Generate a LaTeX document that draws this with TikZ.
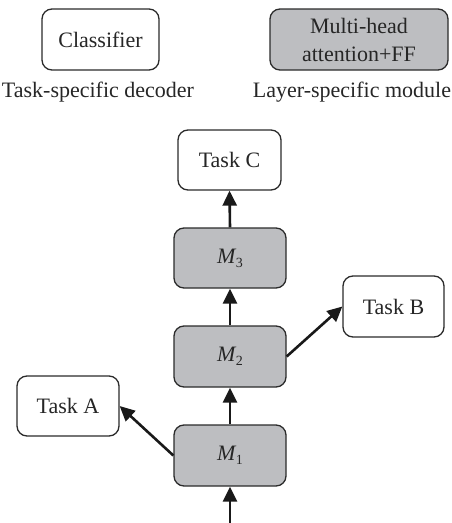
\documentclass[tikz,border=0pt]{standalone}
\usepackage{fontspec}
\setmainfont{Liberation Serif}
\usetikzlibrary{arrows.meta}
\definecolor{modgray}{HTML}{BDBEC1}
\definecolor{edgec}{HTML}{2B2B2B}
\newcommand\msub[1]{{\itshape M}\kern0.02em\raisebox{-0.4ex}{\fontsize{14}{14}\selectfont #1}}
\begin{document}
\begin{tikzpicture}[x=1pt,y=-1pt,
  box/.style={draw=edgec, line width=1.3pt, rounded corners=10pt, inner sep=0pt, align=center,
    font=\fontsize{22}{28}\selectfont, text=black!85},
  dec/.style={box, fill=white},
  mod/.style={box, fill=modgray},
  lbl/.style={inner sep=0pt, anchor=base, font=\fontsize{22}{24}\selectfont, text=black!85},
  arr/.style={line width=2.6pt, draw=black!90, -{Triangle[length=15pt,width=14pt]}, shorten >=0pt}]
\useasboundingbox (0,0) rectangle (451,523);
\node[dec, minimum width=117pt, minimum height=61pt] (cls) at (100.5,39.5) {Classifier};
\node[mod, minimum width=178pt, minimum height=61pt] (mha) at (359,39.5) {Multi-head\\attention+FF};
\node[lbl] (l1) at (98,97) {Task-specific decoder};
\node[lbl] (l2) at (352,97) {Layer-specific module};

\node[dec, minimum width=103pt, minimum height=60pt] (tc) at (229.5,160) {Task C};
\node[mod, minimum width=112pt, minimum height=60pt] (m3) at (230,258) {\msub{3}};
\node[mod, minimum width=112pt, minimum height=61pt] (m2) at (230,356.5) {\msub{2}};
\node[mod, minimum width=112pt, minimum height=61pt] (m1) at (230,455.5) {\msub{1}};
\node[dec, minimum width=101pt, minimum height=61pt] (tb) at (393.5,306.5) {Task B};
\node[dec, minimum width=102pt, minimum height=60pt] (ta) at (68,406) {Task A};
\coordinate (in) at (230,523);

\draw[arr] (in) -- (m1.south);
\draw[arr] (m1.north) -- (m2.south);
\draw[arr] (m2.north) -- (m3.south);
\draw[arr] (m3.north) -- (tc.south);
\draw[arr] (m2.east) -- (tb.west);
\draw[arr] (m1.west) -- (ta.east);
\end{tikzpicture}
\end{document}
